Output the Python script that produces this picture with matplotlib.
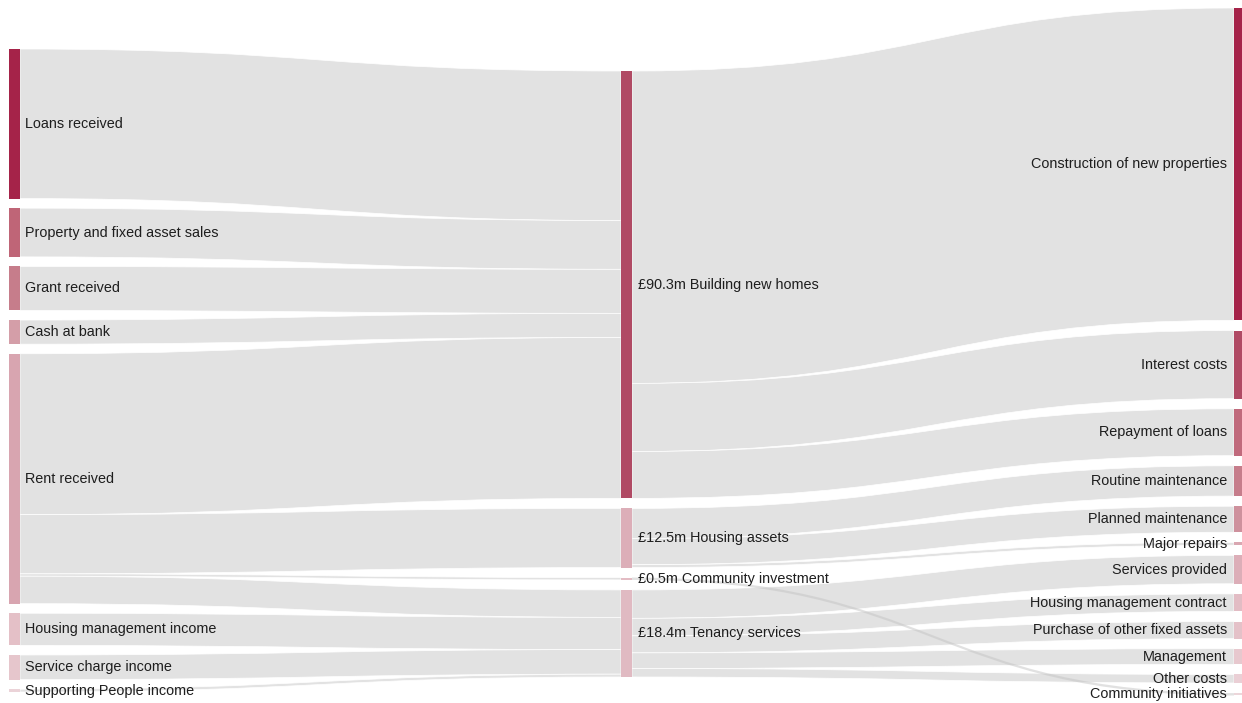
import matplotlib.pyplot as plt
from matplotlib.path import Path
from matplotlib.patches import PathPatch, Rectangle

# node names per column
left_nodes = ['Loans received', 'Property and fixed asset sales', 'Grant received', 'Cash at bank',
              'Rent received', 'Housing management income', 'Service charge income',
              'Supporting People income']
mid_nodes = ['Building new homes', 'Housing assets', 'Community investment', 'Tenancy services']
right_nodes = ['Construction of new properties', 'Interest costs', 'Repayment of loans',
               'Routine maintenance', 'Planned maintenance', 'Major repairs', 'Services provided',
               'Housing management contract', 'Purchase of other fixed assets', 'Management',
               'Other costs', 'Community initiatives']

# flows in £m
link_source = ['Loans received', 'Property and fixed asset sales', 'Grant received', 'Cash at bank',
               'Rent received', 'Rent received', 'Rent received', 'Rent received',
               'Housing management income', 'Service charge income', 'Supporting People income',
               'Building new homes', 'Building new homes', 'Building new homes',
               'Housing assets', 'Housing assets', 'Housing assets',
               'Community investment',
               'Tenancy services', 'Tenancy services', 'Tenancy services', 'Tenancy services',
               'Tenancy services']
link_target = ['Building new homes', 'Building new homes', 'Building new homes', 'Building new homes',
               'Building new homes', 'Housing assets', 'Community investment', 'Tenancy services',
               'Tenancy services', 'Tenancy services', 'Tenancy services',
               'Construction of new properties', 'Interest costs', 'Repayment of loans',
               'Routine maintenance', 'Planned maintenance', 'Major repairs',
               'Community initiatives',
               'Services provided', 'Housing management contract', 'Purchase of other fixed assets',
               'Management', 'Other costs']
link_value = [31.6, 10.3, 9.3, 5.1,
              34.0, 12.5, 0.5, 5.8,
              6.8, 5.2, 0.6,
              66.0, 14.4, 9.9,
              6.4, 5.5, 0.6,
              0.5,
              6.0, 3.7, 3.6, 3.3, 1.8]

# node colours, one list per column
left_colors = ['#a52349', '#bf6577', '#c67d8b', '#d49ea8', '#d8a5b0', '#e4c0c7', '#e6c6cc', '#ebd3d8']
mid_colors = ['#b04a64', '#dcaeb8', '#e3bcc4', '#e0bac2']
right_colors = ['#a52349', '#b04a64', '#c06a7c', '#c67d8b', '#ce919d', '#d9a7b1', '#dcaeb8',
                '#e2bcc4', '#e4c1c8', '#e7c8ce', '#eacfd5', '#ecd6da']

W, H = 1242, 703
columns = [left_nodes, mid_nodes, right_nodes]
col_colors = [left_colors, mid_colors, right_colors]
col_x = [9, 621, 1234]
col_top = [49, 71, 8]
col_bottom = [692, 677, 695.5]
node_w = 11
link_color = '#e2e2e2'
font = dict(fontsize=10.4, family='Liberation Sans', color='#1e1e1e', zorder=4)

# node values = max of inflow / outflow
inflow, outflow = {}, {}
for s, t, v in zip(link_source, link_target, link_value):
    outflow[s] = outflow.get(s, 0) + v
    inflow[t] = inflow.get(t, 0) + v
value = {n: max(inflow.get(n, 0), outflow.get(n, 0)) for col in columns for n in col}

total = sum(value[n] for n in mid_nodes)
scale = (col_bottom[1] - col_top[1] - 10 * (len(mid_nodes) - 1)) / total

# stack nodes in each column
pos = {}
for ci, col in enumerate(columns):
    used = sum(value[n] for n in col) * scale
    gap = (col_bottom[ci] - col_top[ci] - used) / (len(col) - 1)
    y = col_top[ci]
    for n in col:
        h = value[n] * scale
        pos[n] = (col_x[ci], y, h, ci)
        y += h + gap

order = {n: i for col in columns for i, n in enumerate(col)}

# where each link leaves its source and enters its target
out_off = {n: pos[n][1] for n in pos}
in_off = {n: pos[n][1] for n in pos}
src_y, tgt_y = {}, {}
for i in sorted(range(len(link_value)), key=lambda i: (order[link_source[i]], order[link_target[i]])):
    s = link_source[i]
    src_y[i] = out_off[s]
    out_off[s] += link_value[i] * scale
for i in sorted(range(len(link_value)), key=lambda i: (order[link_target[i]], pos[link_source[i]][1])):
    t = link_target[i]
    tgt_y[i] = in_off[t]
    in_off[t] += link_value[i] * scale

fig = plt.figure(figsize=(W / 100, H / 100), dpi=100)
ax = fig.add_axes([0, 0, 1, 1])
ax.set_xlim(0, W)
ax.set_ylim(H, 0)
ax.axis('off')


def band(x0, y0, x1, y1, w):
    xm = (x0 + x1) / 2
    verts = [(x0, y0), (xm, y0), (xm, y1), (x1, y1),
             (x1, y1 + w), (xm, y1 + w), (xm, y0 + w), (x0, y0 + w), (x0, y0)]
    codes = [Path.MOVETO, Path.CURVE4, Path.CURVE4, Path.CURVE4,
             Path.LINETO, Path.CURVE4, Path.CURVE4, Path.CURVE4, Path.CLOSEPOLY]
    return Path(verts, codes)


late = []
for i in range(len(link_value)):
    s, t = link_source[i], link_target[i]
    x0 = pos[s][0] + node_w
    x1 = pos[t][0]
    p = band(x0, src_y[i], x1, tgt_y[i], link_value[i] * scale)
    if s == 'Community investment':
        late.append(p)
        continue
    ax.add_patch(PathPatch(p, facecolor=link_color, edgecolor='white', lw=0.5, zorder=1))
# the community link crosses the tenancy flows, so draw it translucent on top
for p in late:
    ax.add_patch(PathPatch(p, facecolor='#c4c4c4', alpha=0.5, edgecolor='none', zorder=2))

for ci, col in enumerate(columns):
    for n, c in zip(col, col_colors[ci]):
        x, y, h, _ = pos[n]
        ax.add_patch(Rectangle((x, y), node_w, max(h, 1.5), facecolor=c, edgecolor='none', zorder=3))
        yc = y + h / 2
        if ci == 0:
            ax.text(x + node_w + 5, yc, n, ha='left', va='center', **font)
        elif ci == 1:
            ax.text(x + node_w + 6, yc, f'£{value[n]:.1f}m {n}', ha='left', va='center', **font)
        else:
            ax.text(x - 7, yc, n, ha='right', va='center', **font)

fig.savefig('out.png', dpi=100)
